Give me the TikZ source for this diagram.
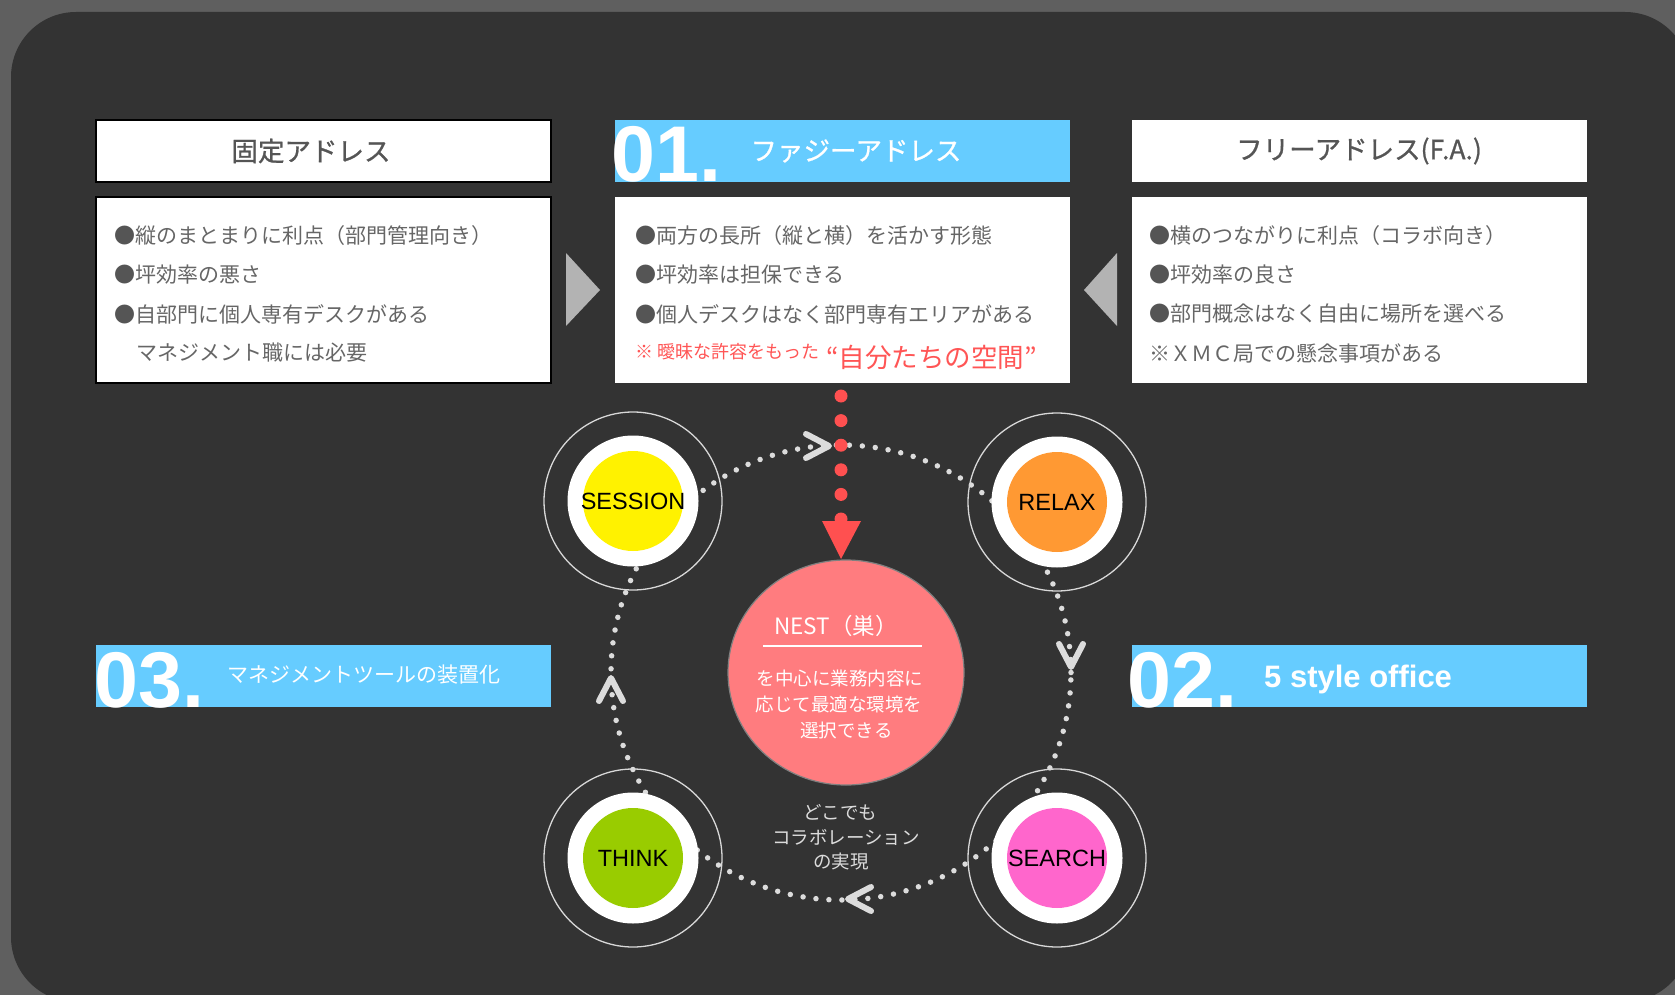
\documentclass[tikz,border=0pt]{standalone}
\usepackage{fontspec}
\setmainfont{Liberation Sans}
\newfontfamily\jp{Noto Sans CJK JP}
\newfontfamily\jpm[FakeBold=0.9]{Noto Sans CJK JP}
\usetikzlibrary{shapes.geometric}
\definecolor{bgout}{HTML}{5F5F5F}
\definecolor{bgin}{HTML}{333333}
\definecolor{txtgray}{HTML}{666666}
\definecolor{bulgray}{HTML}{555555}
\definecolor{headgray}{HTML}{555555}
\definecolor{skyb}{HTML}{66CCFF}
\definecolor{trigray}{HTML}{B3B3B3}
\definecolor{dotc}{HTML}{DCDCDC}
\definecolor{ringc}{HTML}{D8D8D8}
\definecolor{redc}{HTML}{FF5050}
\definecolor{redtxt}{HTML}{FF5555}
\definecolor{cyel}{HTML}{FFF200}
\definecolor{corg}{HTML}{FF9933}
\definecolor{cgrn}{HTML}{99CC00}
\definecolor{cpnk}{HTML}{FF66CC}
\definecolor{nestc}{HTML}{FF7C7F}
\newcommand{\bul}{{\color{bulgray}●}}
\tikzset{
  boxbase/.style={rectangle, inner sep=0pt, outer sep=0pt, minimum width=455pt},
  headbox/.style={boxbase, minimum height=62pt},
  bodybox/.style={boxbase, minimum height=186pt, fill=white},
  bline/.style={anchor=west, inner sep=0pt, font={\jp\fontsize{21}{25}\selectfont}, text=txtgray},
  htext/.style={inner sep=0pt, font={\jpm\fontsize{26.5}{30}\selectfont}, text=headgray},
  bignum/.style={anchor=base west, inner sep=0pt, font={\bfseries\fontsize{79}{80}\selectfont}, text=white},
  ring/.style={circle, inner sep=0pt, minimum size=178pt, draw=ringc, line width=1.3pt},
  wdisk/.style={circle, inner sep=0pt, minimum size=131pt, fill=white},
  cdisk/.style={circle, inner sep=0pt, minimum size=100pt},
  clab/.style={inner sep=0pt, font={\fontsize{23.5}{26}\selectfont}, text=black},
  dotpath/.style={draw=dotc, line width=5.5pt, line cap=round, dash pattern=on 0pt off 13pt},
  chev/.style={draw=dotc, line width=6pt, line cap=round, line join=round},
  reddot/.style={draw=redc, line width=13pt, line cap=round, dash pattern=on 0pt off 24.6pt},
  wtext/.style={inner sep=0pt, font={\jp\fontsize{18.5}{22}\selectfont}, text=white},
  gtext/.style={inner sep=0pt, font={\jp\fontsize{18.5}{22}\selectfont}, text=dotc}
}
\begin{document}
\begin{tikzpicture}[x=1pt,y=-1pt]
\useasboundingbox (0,0) rectangle (1675,995);
\fill[bgout] (0,0) rectangle (1675,995);
\fill[bgin, rounded corners=65pt] (11,12) rectangle (1690,1002);

% top boxes
\node[headbox, fill=white, draw=black, line width=2pt] (lhead) at (323.5,151) {};
\node[htext] (lheadt) at (311,151) {固定アドレス};
\node[bodybox, draw=black, line width=2pt] (lbody) at (323.5,290) {};
\node[bline] (l1) at (114,236) {\bul 縦のまとまりに利点（部門管理向き）};
\node[bline] (l2) at (114,275) {\bul 坪効率の悪さ};
\node[bline] (l3) at (114,314) {\bul 自部門に個人専有デスクがある};
\node[bline] (l4) at (136,353) {マネジメント職には必要};

\node[headbox, fill=skyb] (mhead) at (842,151) {};
\node[bignum] (n01) at (611,182) {01.};
\node[htext, text=white] (mheadt) at (856,151) {ファジーアドレス};
\node[bodybox] (mbody) at (842,290) {};
\node[bline] (m1) at (635,236) {\bul 両方の長所（縦と横）を活かす形態};
\node[bline] (m2) at (635,275) {\bul 坪効率は担保できる};
\node[bline] (m3) at (635,314) {\bul 個人デスクはなく部門専有エリアがある};
\node[anchor=base west, inner sep=0pt, font={\jp\fontsize{18}{20}\selectfont}, text=redtxt] (m4a) at (635,358) {※ 曖昧な許容をもった};
\node[anchor=base west, inner sep=0pt, font={\jp\fontsize{26.5}{30}\selectfont}, text=redtxt] (m4b) at (826,367) {“自分たちの空間”};

\node[headbox, fill=white] (rhead) at (1359,151) {};
\node[htext] (rheadt) at (1359,151) {フリーアドレス(F.A.)};
\node[bodybox] (rbody) at (1359,290) {};
\node[bline] (r1) at (1149,236) {\bul 横のつながりに利点（コラボ向き）};
\node[bline] (r2) at (1149,275) {\bul 坪効率の良さ};
\node[bline] (r3) at (1149,314) {\bul 部門概念はなく自由に場所を選べる};
\node[bline] (r4) at (1149,353) {※ＸＭＣ局での懸念事項がある};

% side triangles
\fill[trigray] (566,253) -- (600,290) -- (566,326) -- cycle;
\fill[trigray] (1117,253) -- (1084,290) -- (1117,326) -- cycle;

% bottom headers
\node[headbox, fill=skyb, minimum height=62pt] (h03) at (323,676) {};
\node[bignum] (n03) at (94,707) {03.};
\node[anchor=west, inner sep=0pt, font={\jp\fontsize{21}{25}\selectfont}, text=white] (h03t) at (227,675) {マネジメントツールの装置化};
\node[headbox, fill=skyb, minimum height=62pt] (h02) at (1359,676) {};
\node[bignum] (n02) at (1127,707) {02.};
\node[anchor=base west, inner sep=0pt, font={\bfseries\fontsize{31}{34}\selectfont}, text=white] (h02t) at (1264,687) {5 style office};

% dotted cycle
\draw[dotpath] (841,672.5) ellipse [x radius=230pt, y radius=227.5pt];
\coordinate (cT) at (829,446);
\coordinate (cR) at (1071,667);
\coordinate (cB) at (848,899);
\coordinate (cL) at (611,678);
\draw[chev] (cT) ++(-23,-12) -- (cT) -- ++(-23,12);
\draw[chev] (cR) ++(-12,-23) -- (cR) -- ++(12,-23);
\draw[chev] (cB) ++(23,-12) -- (cB) -- ++(23,12);
\draw[chev] (cL) ++(-12,23) -- (cL) -- ++(12,23);

% station nodes
\node[ring] (sessR) at (633,501) {};
\node[wdisk] (sessW) at (633,501) {};
\node[cdisk, fill=cyel] (session) at (633,501) {};
\node[clab] (sessiont) at (session) {SESSION};

\node[ring] (relR) at (1057,502) {};
\node[wdisk] (relW) at (1057,502) {};
\node[cdisk, fill=corg] (relax) at (1057,502) {};
\node[clab] (relaxt) at (relax) {RELAX};

\node[ring] (thR) at (633,858) {};
\node[wdisk] (thW) at (633,858) {};
\node[cdisk, fill=cgrn] (think) at (633,858) {};
\node[clab] (thinkt) at (think) {THINK};

\node[ring] (seR) at (1057,858) {};
\node[wdisk] (seW) at (1057,858) {};
\node[cdisk, fill=cpnk] (search) at (1057,858) {};
\node[clab] (searcht) at (search) {SEARCH};

% nest
\node[ellipse, inner sep=0pt, minimum width=236pt, minimum height=225pt, fill=nestc, draw=gray, line width=1.2pt] (nest) at (846,672.5) {};
\node[inner sep=0pt, font={\jp\fontsize{22.5}{25}\selectfont}, text=white] (nestt) at (836,626) {NEST（巣）};
\coordinate (ulA) at (763,646);
\coordinate (ulB) at (922,646);
\draw[white, line width=1.3pt] (ulA) -- (ulB);
\node[wtext] (n1) at (840,678) {を中心に業務内容に};
\node[wtext] (n2) at (839,704) {応じて最適な環境を};
\node[wtext] (n3) at (846.5,730) {選択できる};

% red arrow
\coordinate (rs) at (841,396);
\coordinate (re) at (841,519.5);
\draw[reddot] (rs) -- (re);
\fill[redc] (822,521) -- (861,521) -- (841,559) -- cycle;

% bottom caption
\node[gtext] (c1) at (840.5,812) {どこでも};
\node[gtext] (c2) at (846,837) {コラボレーション};
\node[gtext] (c3) at (841,862) {の実現};
\end{tikzpicture}
\end{document}
